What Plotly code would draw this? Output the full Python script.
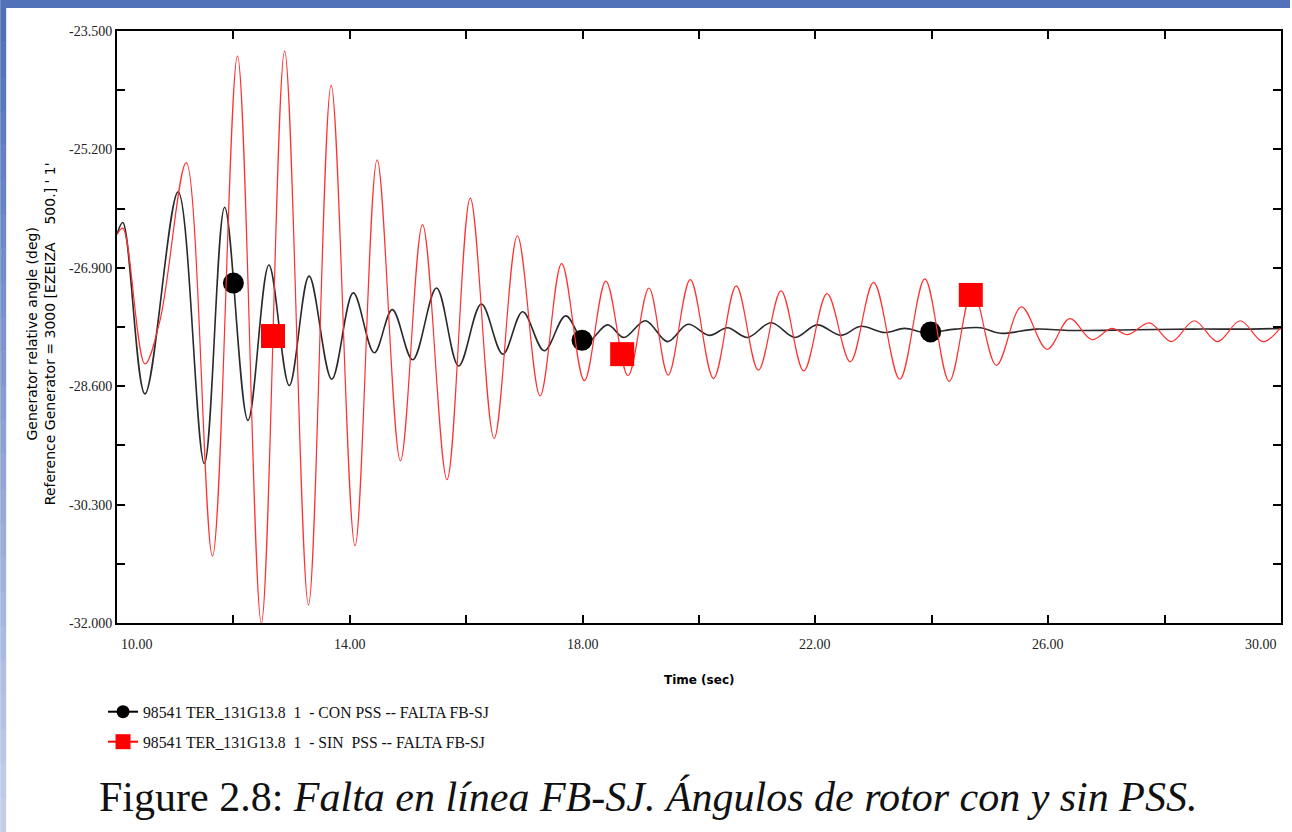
import plotly.graph_objects as go

# Rotor angle of generator 98541 TER_131G13.8 relative to reference generator 3000
# Time axis in seconds, angle in degrees.

# With PSS (CON PSS): turning points of the trace
t_con = [10.00, 10.10, 10.48, 11.05, 11.50, 11.85, 12.25, 12.61, 12.96, 13.30,
         13.69, 14.06, 14.42, 14.73, 15.08, 15.49, 15.87, 16.26, 16.63, 16.97,
         17.34, 17.71, 18.05, 18.43, 18.71, 19.08, 19.46, 19.81, 20.18, 20.49,
         20.83, 21.24, 21.65, 22.03, 22.44, 22.78, 23.19, 23.53, 23.90, 24.40,
         24.84, 25.18, 25.79, 26.40, 27.50, 28.50, 29.50, 30.00]
a_con = [-26.42, -26.25, -28.71, -25.81, -29.71, -26.03, -29.09, -26.86, -28.59, -27.02,
         -28.50, -27.26, -28.12, -27.50, -28.22, -27.19, -28.31, -27.42, -28.14, -27.53,
         -28.09, -27.59, -27.98, -27.72, -27.90, -27.66, -27.96, -27.71, -27.87, -27.76,
         -27.90, -27.69, -27.90, -27.72, -27.87, -27.74, -27.83, -27.77, -27.83, -27.78,
         -27.76, -27.84, -27.78, -27.80, -27.79, -27.78, -27.78, -27.77]

# Without PSS (SIN PSS): turning points of the trace
t_sin = [10.00, 10.10, 10.48, 10.74, 11.19, 11.64, 12.07, 12.48, 12.88, 13.29,
         13.68, 14.09, 14.47, 14.87, 15.25, 15.67, 16.07, 16.48, 16.88, 17.27,
         17.64, 18.03, 18.40, 18.78, 19.14, 19.47, 19.85, 20.25, 20.64, 21.02,
         21.41, 21.80, 22.20, 22.60, 23.00, 23.45, 23.88, 24.30, 24.70, 25.11,
         25.54, 25.98, 26.37, 26.75, 27.09, 27.37, 27.74, 28.12, 28.51, 28.91,
         29.30, 29.69, 30.00]
a_sin = [-26.42, -26.33, -28.28, -27.65, -25.39, -31.04, -23.86, -32.00, -23.79, -31.74,
         -24.28, -30.89, -25.35, -29.67, -26.28, -29.94, -25.90, -29.35, -26.44, -28.74,
         -26.84, -28.52, -27.09, -28.45, -27.19, -28.44, -27.07, -28.49, -27.16, -28.37,
         -27.23, -28.38, -27.27, -28.25, -27.11, -28.50, -27.06, -28.53, -27.22, -28.30,
         -27.46, -28.07, -27.63, -27.93, -27.77, -27.86, -27.69, -27.96, -27.66, -27.96,
         -27.66, -27.96, -27.75]

# Series symbols placed along each trace
t_con_sym = [12.00, 17.99, 23.98]
a_con_sym = [-27.12, -27.94, -27.82]
t_sin_sym = [12.68, 18.68, 24.67]
a_sin_sym = [-27.88, -28.14, -27.29]

# Axes
x_ticks = [10, 12, 14, 16, 18, 20, 22, 24, 26, 28, 30]
x_labels = ["10.00", "", "14.00", "", "18.00", "", "22.00", "", "26.00", "", "30.00"]
y_ticks = [-32.0, -31.15, -30.3, -29.45, -28.6, -27.75, -26.9, -26.05, -25.2, -24.35, -23.5]
y_labels = ["-32.000", "", "-30.300", "", "-28.600", "", "-26.900", "", "-25.200", "", "-23.500"]

names = ["98541 TER_131G13.8\u00a0 1\u00a0 - CON PSS -- FALTA FB-SJ",
         "98541 TER_131G13.8\u00a0 1\u00a0 - SIN\u00a0 PSS -- FALTA FB-SJ"]

BLACK = "#2a2a2a"
RED = "#ff3030"
SERIF = "Liberation Serif"
SANS = "DejaVu Sans"

W, H = 1292, 832
L, R, T, B = 117, 1283, 31, 623


def px_x(px):
    return (px - L) / (R - L)


def px_y(py):
    return (B - py) / (B - T)


fig = go.Figure()

fig.add_trace(go.Scatter(x=t_con, y=a_con, mode="lines", line=dict(color=BLACK, width=1.6, shape="spline"),
                         showlegend=False, hoverinfo="skip"))
fig.add_trace(go.Scatter(x=t_con_sym, y=a_con_sym, mode="markers",
                         marker=dict(symbol="circle", size=21, color="black"), showlegend=False))
fig.add_trace(go.Scatter(x=t_sin, y=a_sin, mode="lines", line=dict(color=RED, width=1.2, shape="spline"),
                         showlegend=False, hoverinfo="skip"))
fig.add_trace(go.Scatter(x=t_sin_sym, y=a_sin_sym, mode="markers",
                         marker=dict(symbol="square", size=24, color="#ff0000"), showlegend=False))

# Legend entries
fig.add_trace(go.Scatter(x=[None], y=[None], mode="lines+markers", name=names[0],
                         line=dict(color="black", width=2), marker=dict(symbol="circle", size=13, color="black"),
                         legend="legend"))
fig.add_trace(go.Scatter(x=[None], y=[None], mode="lines+markers", name=names[1],
                         line=dict(color="#ff0000", width=2), marker=dict(symbol="square", size=15, color="#ff0000"),
                         legend="legend2"))

legend_common = dict(xanchor="left", yanchor="middle", bgcolor="rgba(0,0,0,0)", borderwidth=0,
                     font=dict(family=SERIF, size=15.7, color="#111"), itemwidth=30)
fig.update_layout(
    legend=dict(x=px_x(103), y=px_y(712), **legend_common),
    legend2=dict(x=px_x(103), y=px_y(742), **legend_common),
)

fig.update_xaxes(range=[10, 30], showgrid=False, zeroline=False, showline=True, linecolor="black", linewidth=2,
                 mirror="ticks", ticks="inside", ticklen=8, tickwidth=2, tickcolor="black",
                 tickmode="array", tickvals=x_ticks, showticklabels=False)
fig.update_yaxes(range=[-32, -23.5], showgrid=False, zeroline=False, showline=True, linecolor="black", linewidth=2,
                 mirror="ticks", ticks="inside", ticklen=8, tickwidth=2, tickcolor="black",
                 tickmode="array", tickvals=y_ticks, ticktext=y_labels,
                 tickfont=dict(family=SERIF, size=14, color="#222"))

annotations = []
for v, lab in zip(x_ticks, x_labels):
    if not lab:
        continue
    if v == x_ticks[0]:
        anchor, shift = "left", 2
    elif v == x_ticks[-1]:
        anchor, shift = "right", -2
    else:
        anchor, shift = "center", 0
    annotations.append(dict(x=v, y=px_y(645), xref="x", yref="paper", text=lab, showarrow=False,
                            xanchor=anchor, yanchor="middle", xshift=shift,
                            font=dict(family=SERIF, size=14, color="#222")))

annotations.append(dict(x=px_x(700), y=px_y(680), xref="paper", yref="paper", text="<b>Time (sec)</b>",
                        showarrow=False, xanchor="center", yanchor="middle",
                        font=dict(family=SANS, size=12, color="black")))
annotations.append(dict(x=px_x(41), y=px_y(334), xref="paper", yref="paper",
                        text="Generator relative angle (deg)<br>Reference Generator = 3000 [EZEIZA\u00a0\u00a0\u00a0 500.] ' 1'",
                        textangle=-90, showarrow=False, xanchor="center", yanchor="middle",
                        font=dict(family=SANS, size=14, color="black")))
annotations.append(dict(x=px_x(97), y=px_y(797), xref="paper", yref="paper",
                        text="Figure 2.8: <i>Falta en línea FB-SJ. Ángulos de rotor con y sin PSS.</i>",
                        showarrow=False, xanchor="left", yanchor="middle",
                        font=dict(family=SERIF, size=42, color="#111")))

# Page border: blue top band and a fading blue strip on the left
shapes = [dict(type="rect", xref="paper", yref="paper", x0=px_x(0), x1=px_x(W), y0=px_y(0), y1=px_y(8),
               fillcolor="#5171b9", line=dict(width=0), layer="below")]
n_bands = 24
top_rgb = (80, 112, 185)
bot_rgb = (196, 206, 234)
band_h = (H - 8) / n_bands
for i in range(n_bands):
    f = i / (n_bands - 1)
    c = tuple(int(round(top_rgb[k] + (bot_rgb[k] - top_rgb[k]) * f)) for k in range(3))
    shapes.append(dict(type="rect", xref="paper", yref="paper", x0=px_x(0), x1=px_x(6),
                       y0=px_y(8 + band_h * (i + 1) + 0.5), y1=px_y(8 + band_h * i),
                       fillcolor="rgb(%d,%d,%d)" % c, line=dict(width=0), layer="below"))

fig.update_layout(
    width=W, height=H, autosize=False,
    margin=dict(l=L, r=W - R, t=T, b=H - B, pad=0),
    paper_bgcolor="white", plot_bgcolor="white",
    annotations=annotations, shapes=shapes,
)

fig.write_html("out.html")
